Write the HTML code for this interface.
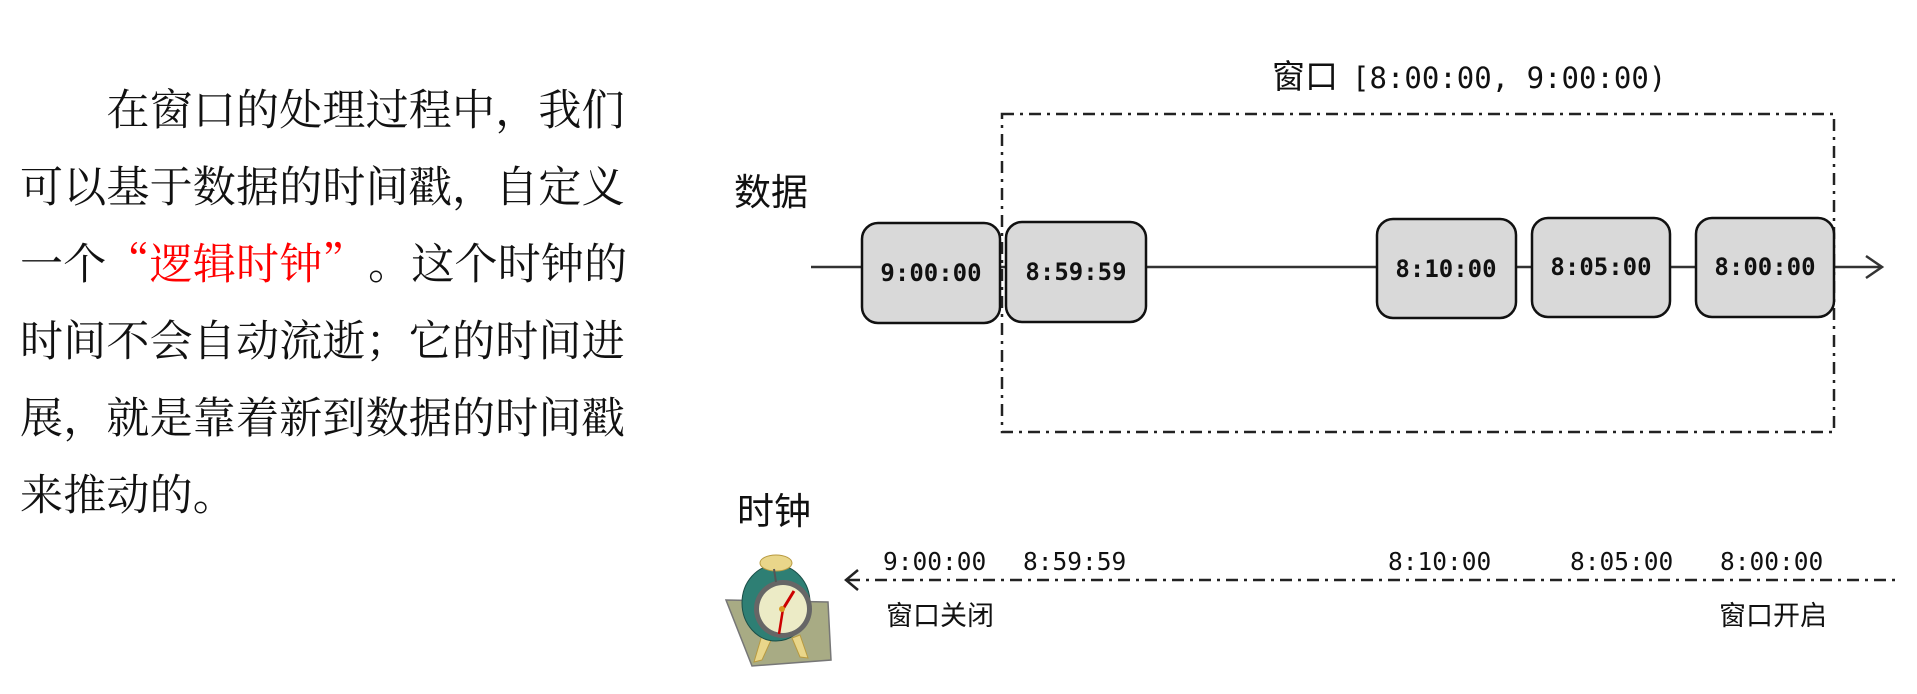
<!DOCTYPE html>
<html><head><meta charset="utf-8"><style>
html,body{margin:0;padding:0;background:#fff;width:1917px;height:694px;overflow:hidden}
.t{position:absolute;left:20px;top:69px;width:660px;font-family:"Noto Serif CJK SC","Liberation Serif",serif;font-size:43px;line-height:77px;color:#111;letter-spacing:0.2px;white-space:nowrap}
.r{color:#f00;margin-right:24px}
svg{position:absolute;left:0;top:0}
</style></head><body>
<div class="t">&emsp;&emsp;在窗口的处理过程中，我们<br>可以基于数据的时间戳，自定义<br>一个<span class="r">“逻辑时钟”</span>。这个时钟的<br>时间不会自动流逝；它的时间进<br>展，就是靠着新到数据的时间戳<br>来推动的。</div>
<svg width="1917" height="694" xmlns="http://www.w3.org/2000/svg">
<g font-family="'Liberation Sans','Noto Sans CJK SC',sans-serif" fill="#111">
<text x="734" y="205" font-size="37">数据</text>
<text x="737" y="524" font-size="37">时钟</text>
<text x="1272" y="88" font-size="33">窗口</text>
<text x="1352" y="88" font-size="29" font-family="'DejaVu Sans Mono','Liberation Mono',monospace">[8:00:00, 9:00:00)</text>
<text x="886" y="625" font-size="27">窗口关闭</text>
<text x="1719" y="625" font-size="27">窗口开启</text>
</g>
<rect x="1002" y="114" width="832" height="318" fill="none" stroke="#222" stroke-width="2.5" stroke-dasharray="12,6,3,6"/>
<line x1="811" y1="267" x2="1880" y2="267" stroke="#333" stroke-width="2.5"/>
<polyline points="1866,256 1882,267 1866,278" fill="none" stroke="#333" stroke-width="2.5"/>
<g fill="#d9d9d9" stroke="#111" stroke-width="2.5">
<rect x="862" y="223" width="138" height="100" rx="16"/>
<rect x="1006" y="222" width="140" height="100" rx="16"/>
<rect x="1377" y="219" width="139" height="99" rx="16"/>
<rect x="1532" y="218" width="138" height="99" rx="16"/>
<rect x="1696" y="218" width="138" height="99" rx="16"/>
</g>
<g font-family="'DejaVu Sans Mono','Liberation Mono',monospace" font-weight="bold" font-size="24" text-anchor="middle" fill="#111">
<text x="931" y="281">9:00:00</text>
<text x="1076" y="280">8:59:59</text>
<text x="1446" y="277">8:10:00</text>
<text x="1601" y="275">8:05:00</text>
<text x="1765" y="275">8:00:00</text>
</g>
<line x1="848" y1="580" x2="1900" y2="580" stroke="#222" stroke-width="2.5" stroke-dasharray="12,6,3,6"/>
<polyline points="858,570 846,580 858,590" fill="none" stroke="#222" stroke-width="2.5"/>
<g font-family="'DejaVu Sans Mono','Liberation Mono',monospace" font-size="24.5" fill="#111">
<text x="883" y="570">9:00:00</text>
<text x="1023" y="570">8:59:59</text>
<text x="1388" y="570">8:10:00</text>
<text x="1570" y="570">8:05:00</text>
<text x="1720" y="570">8:00:00</text>
</g>
<polygon points="726,600 828,602 831,660 752,666" fill="#a8ab84" stroke="#777" stroke-width="1.5"/>
<polygon points="762,635 754,662 762,660 772,638" fill="#e9d68a" stroke="#b89a40"/>
<polygon points="800,635 808,658 800,657 792,638" fill="#e9d68a" stroke="#b89a40"/>
<ellipse cx="776" cy="603" rx="34" ry="38" fill="#2e7f74" stroke="#1c4f48"/>
<circle cx="783" cy="609" r="29" fill="#666"/>
<circle cx="783" cy="609" r="24" fill="#ecebc6"/>
<line x1="783" y1="609" x2="794" y2="591" stroke="#c00" stroke-width="3"/>
<line x1="783" y1="609" x2="779" y2="634" stroke="#c00" stroke-width="2.5"/>
<circle cx="782" cy="609" r="3" fill="#d89a20"/>
<ellipse cx="776" cy="563" rx="16" ry="8" fill="#e9d68a" stroke="#b89a40"/>
<line x1="774" y1="569" x2="776" y2="582" stroke="#555" stroke-width="2"/>
</svg>
</body></html>
